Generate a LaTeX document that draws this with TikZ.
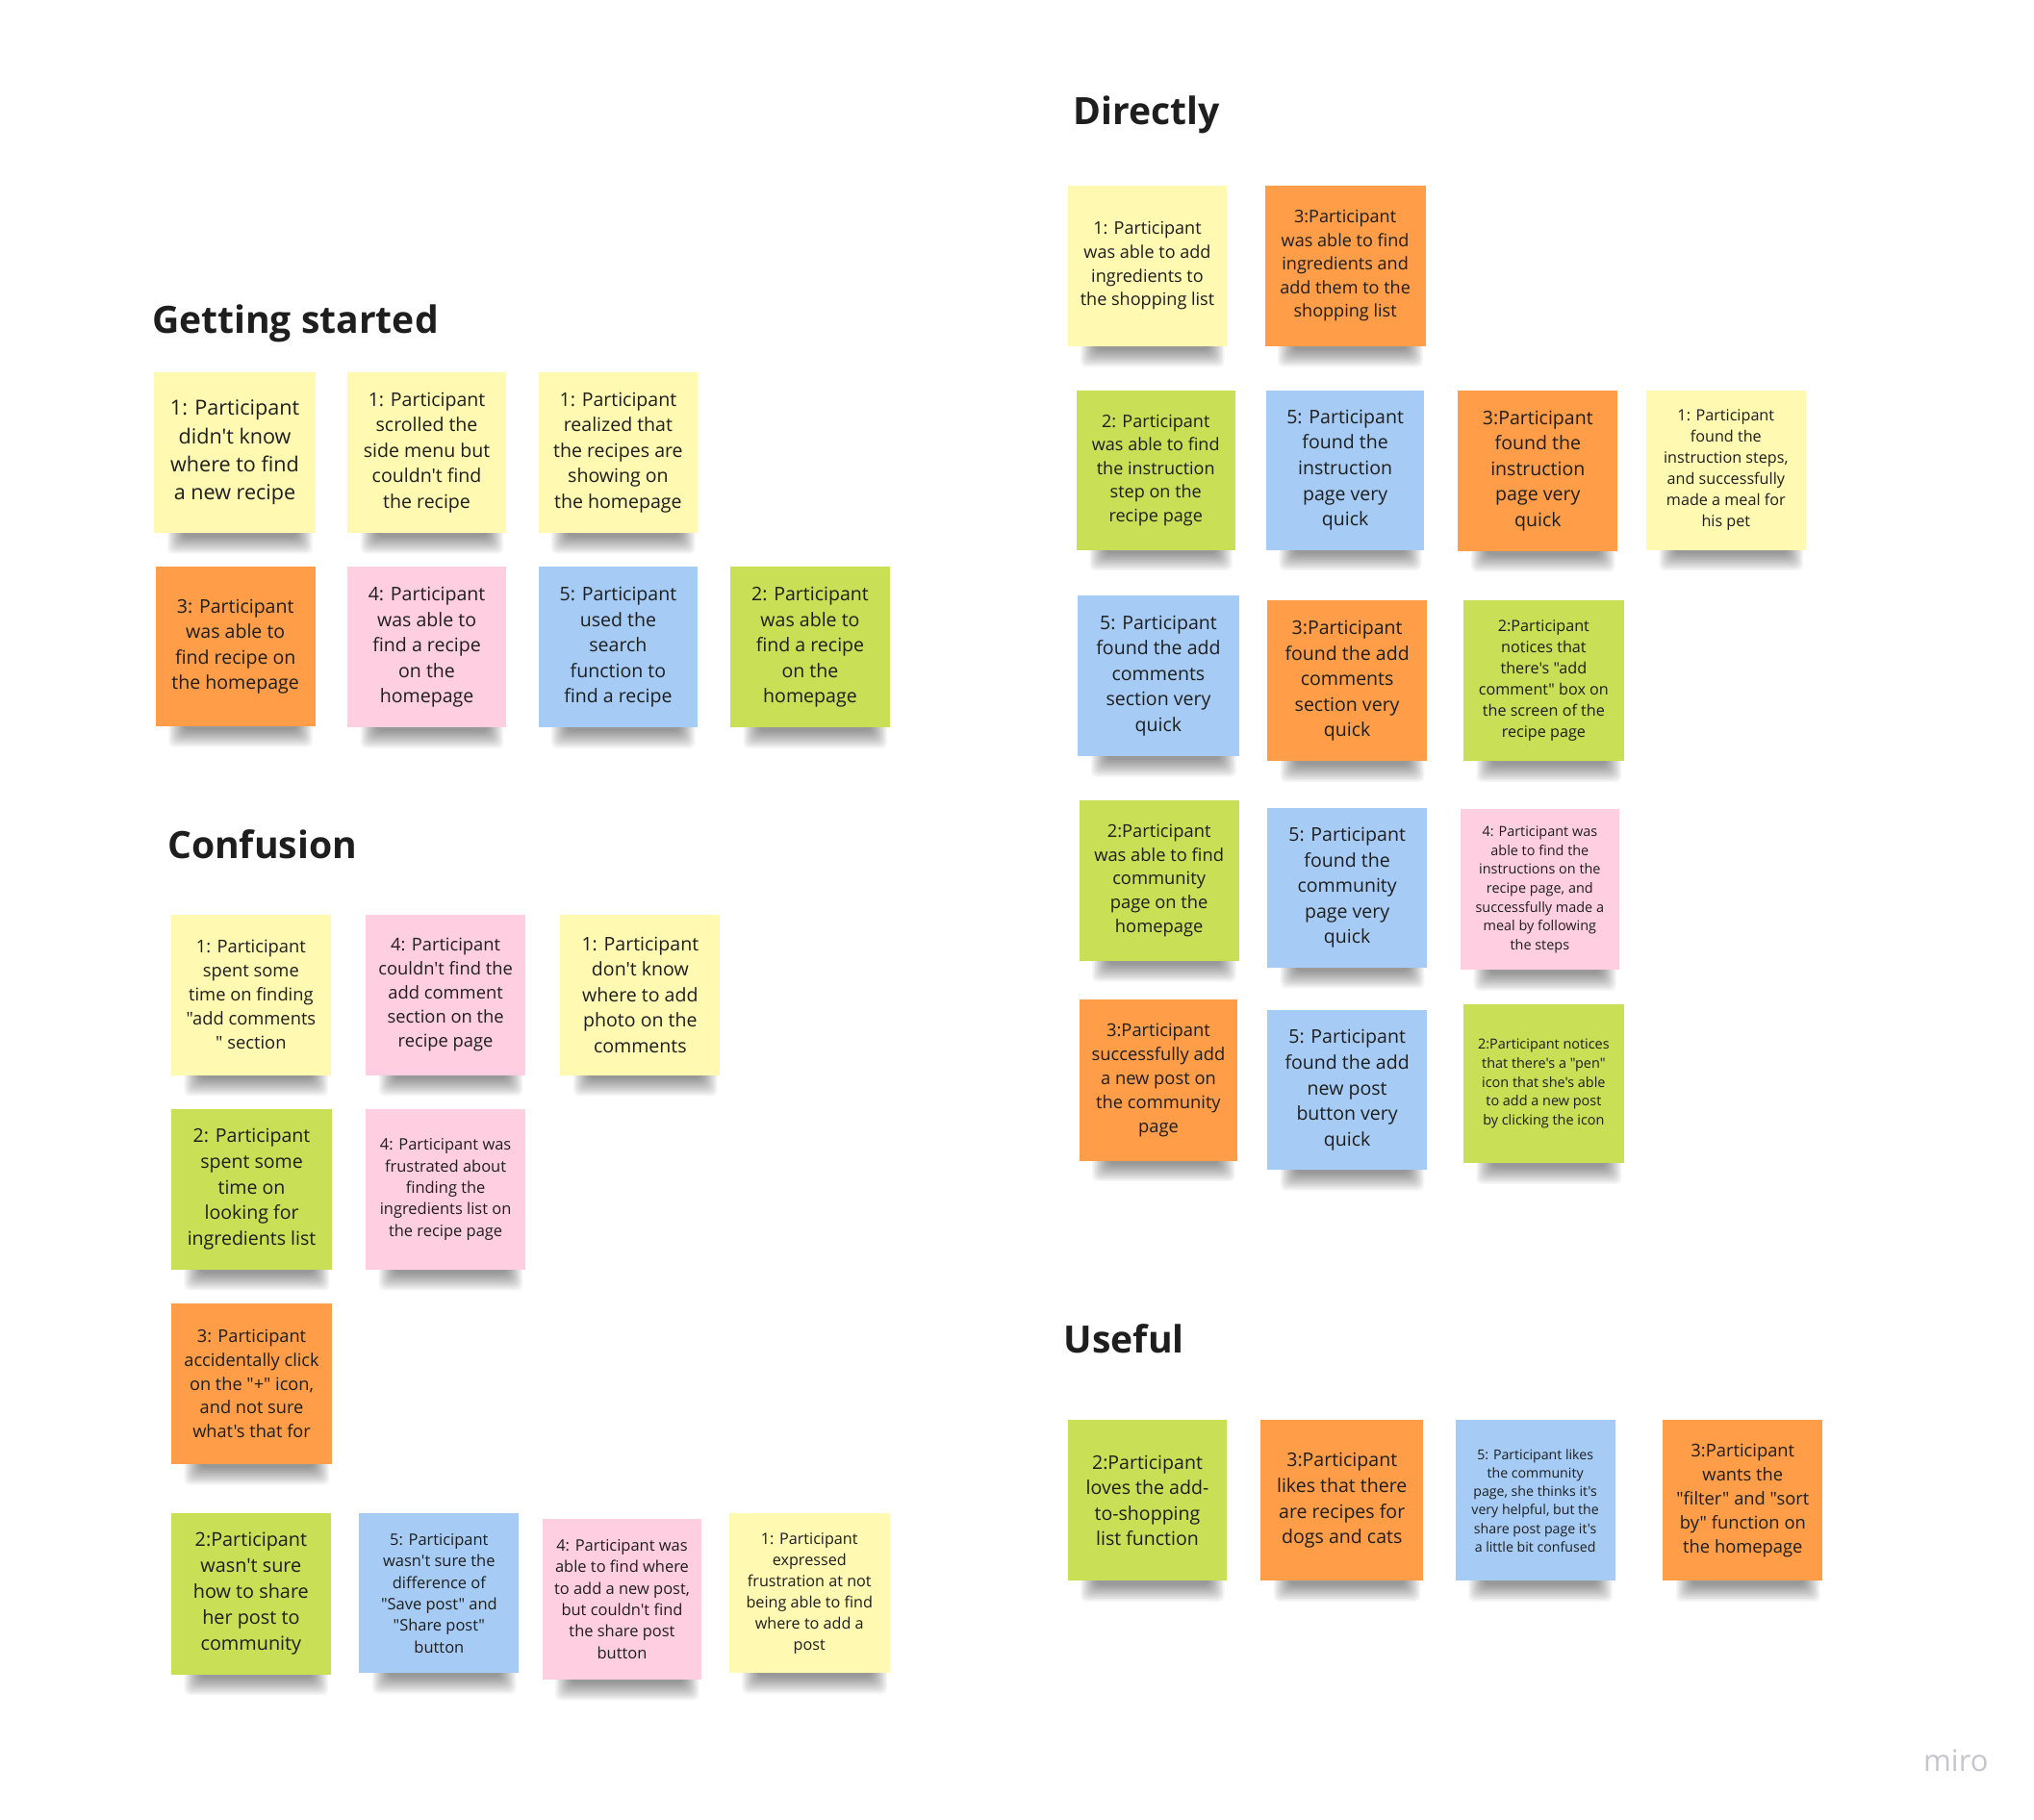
\documentclass[tikz,border=0pt]{standalone}
\usepackage{fontspec}
\setmainfont{Open Sans}[Ligatures=TeXOff]
\usetikzlibrary{calc,backgrounds}

\definecolor{noteyellow}{HTML}{FFF9B1}
\definecolor{noteorange}{HTML}{FF9D48}
\definecolor{notepink}{HTML}{FFCEE0}
\definecolor{noteblue}{HTML}{A6CCF5}
\definecolor{notegreen}{HTML}{C9DF56}
\definecolor{inktext}{HTML}{1E1E1E}
\definecolor{brandgray}{HTML}{C6C6D0}

\tikzset{
  note/.style={rectangle, inner sep=0pt, outer sep=0pt, align=center, text=inktext},
  heading/.style={anchor=base west, inner sep=0pt, text=inktext,
                  font=\fontsize{29}{35}\selectfont\bfseries},
}

% soft shadow strip under the bottom edge of a sticky note
\newcommand\noteshadow[1]{%
  \begin{scope}[on background layer]
    \foreach \i in {0,...,11}{
      \fill[black, opacity=0.04, rounded corners=4pt]
        ($(#1.south west)+({10+1.1*\i},-6)$) rectangle
        ($(#1.south east)+({-2-1.1*\i},{16-1.2*\i})$);
    }
  \end{scope}}

% \sticky{name}{x1}{y1}{x2}{y2}{colour}{font size}{text}
\newcommand\sticky[8]{%
  \pgfmathsetmacro\noteleading{1.36*#7}%
  \node[note, fill=#6, minimum width={#4-#2}, minimum height={#5-#3},
        font=\fontsize{#7}{\noteleading}\selectfont]
        (#1) at ({(#2+#4)/2},{(#3+#5)/2}) {#8};
  \noteshadow{#1}}

\begin{document}
\begin{tikzpicture}[x=1pt, y=-1pt]
  \begin{scope}[on background layer]
    \fill[white] (0,0) rectangle (1568,1403);
  \end{scope}
  \useasboundingbox (0,0) rectangle (1568,1403);

  % ---------------- Getting started ----------------
  \node[heading] (gsTitle) at (117,257) {Getting started};
  \sticky{gs1}{119}{287}{243}{411}{noteyellow}{16}{1: Participant\\didn't know\\where to find\\a new recipe}
  \sticky{gs2}{268}{287}{390}{411}{noteyellow}{14.5}{1: Participant\\scrolled the\\side menu but\\couldn't find\\the recipe}
  \sticky{gs3}{415}{287}{538}{411}{noteyellow}{14.5}{1: Participant\\realized that\\the recipes are\\showing on\\the homepage}
  \sticky{gs4}{120}{437}{243}{560}{noteorange}{14.5}{3: Participant\\was able to\\find recipe on\\the homepage}
  \sticky{gs5}{268}{437}{390}{561}{notepink}{14.5}{4: Participant\\was able to\\find a recipe\\on the\\homepage}
  \sticky{gs6}{415}{437}{538}{561}{noteblue}{14.5}{5: Participant\\used the\\search\\function to\\find a recipe}
  \sticky{gs7}{563}{437}{686}{561}{notegreen}{14.5}{2: Participant\\was able to\\find a recipe\\on the\\homepage}

  % ---------------- Confusion ----------------
  \node[heading] (cfTitle) at (129,662) {Confusion};
  \sticky{cf1}{132}{705}{255}{829}{noteyellow}{13.6}{1: Participant\\spent some\\time on finding\\"add comments\\" section}
  \sticky{cf2}{282}{705}{405}{829}{notepink}{13.6}{4: Participant\\couldn't find the\\add comment\\section on the\\recipe page}
  \sticky{cf3}{432}{705}{555}{829}{noteyellow}{14.5}{1: Participant\\don't know\\where to add\\photo on the\\comments}
  \sticky{cf4}{132}{855}{256}{979}{notegreen}{14.5}{2: Participant\\spent some\\time on\\looking for\\ingredients list}
  \sticky{cf5}{282}{855}{405}{979}{notepink}{12.2}{4: Participant was\\frustrated about\\finding the\\ingredients list on\\the recipe page}
  \sticky{cf6}{132}{1005}{256}{1129}{noteorange}{13.5}{3: Participant\\accidentally click\\on the "+" icon,\\and not sure\\what's that for}
  \sticky{cf7}{132}{1167}{255}{1291}{notegreen}{14.7}{2:Participant\\wasn't sure\\how to share\\her post to\\community}
  \sticky{cf8}{277}{1167}{400}{1290}{noteblue}{12.2}{5: Participant\\wasn't sure the\\difference of\\"Save post" and\\"Share post"\\button}
  \sticky{cf9}{418}{1171}{541}{1295}{notepink}{12.2}{4: Participant was\\able to find where\\to add a new post,\\but couldn't find\\the share post\\button}
  \sticky{cf10}{562}{1167}{686}{1290}{noteyellow}{12}{1: Participant\\expressed\\frustration at not\\being able to find\\where to add a\\post}

  % ---------------- Directly ----------------
  \node[heading] (drTitle) at (827,96) {Directly};
  \sticky{dr1}{823}{143}{946}{267}{noteyellow}{13.4}{1: Participant\\was able to add\\ingredients to\\the shopping list}
  \sticky{dr2}{975}{143}{1099}{267}{noteorange}{13.4}{3:Participant\\was able to find\\ingredients and\\add them to the\\shopping list}
  \sticky{dr3}{830}{301}{952}{424}{notegreen}{13.4}{2: Participant\\was able to find\\the instruction\\step on the\\recipe page}
  \sticky{dr4}{976}{301}{1098}{424}{noteblue}{14.5}{5: Participant\\found the\\instruction\\page very\\quick}
  \sticky{dr5}{1124}{301}{1247}{425}{noteorange}{14.5}{3:Participant\\found the\\instruction\\page very\\quick}
  \sticky{dr6}{1269}{301}{1392}{424}{noteyellow}{12}{1: Participant\\found the\\instruction steps,\\and successfully\\made a meal for\\his pet}
  \sticky{dr7}{831}{459}{955}{583}{noteblue}{14.5}{5: Participant\\found the add\\comments\\section very\\quick}
  \sticky{dr8}{977}{463}{1100}{587}{noteorange}{14.5}{3:Participant\\found the add\\comments\\section very\\quick}
  \sticky{dr9}{1128}{463}{1252}{587}{notegreen}{12}{2:Participant\\notices that\\there's "add\\comment" box on\\the screen of the\\recipe page}
  \sticky{dr10}{832}{617}{955}{741}{notegreen}{13.6}{2:Participant\\was able to find\\community\\page on the\\homepage}
  \sticky{dr11}{977}{623}{1100}{746}{noteblue}{14.5}{5: Participant\\found the\\community\\page very\\quick}
  \sticky{dr12}{1126}{624}{1248}{748}{notepink}{10.7}{4: Participant was\\able to find the\\instructions on the\\recipe page, and\\successfully made a\\meal by following\\the steps}
  \sticky{dr13}{832}{771}{954}{895}{noteorange}{13.6}{3:Participant\\successfully add\\a new post on\\the community\\page}
  \sticky{dr14}{977}{779}{1100}{902}{noteblue}{14.5}{5: Participant\\found the add\\new post\\button very\\quick}
  \sticky{dr15}{1128}{774}{1252}{897}{notegreen}{10.7}{2:Participant notices\\that there's a "pen"\\icon that she's able\\to add a new post\\by clicking the icon}

  % ---------------- Useful ----------------
  \node[heading] (usTitle) at (820,1043) {Useful};
  \sticky{us1}{823}{1095}{946}{1219}{notegreen}{14.5}{2:Participant\\loves the add-\\to-shopping\\list function}
  \sticky{us2}{972}{1095}{1097}{1219}{noteorange}{14.5}{3:Participant\\likes that there\\are recipes for\\dogs and cats}
  \sticky{us3}{1122}{1095}{1245}{1219}{noteblue}{10.5}{5: Participant likes\\the community\\page, she thinks it's\\very helpful, but the\\share post page it's\\a little bit confused}
  \sticky{us4}{1282}{1095}{1405}{1219}{noteorange}{13.6}{3:Participant\\wants the\\"filter" and "sort\\by" function on\\the homepage}

  % board watermark
  \node[anchor=base east, inner sep=0pt, text=brandgray,
        font=\fontsize{23}{27}\selectfont] (brand) at (1533,1366) {miro};
\end{tikzpicture}
\end{document}
